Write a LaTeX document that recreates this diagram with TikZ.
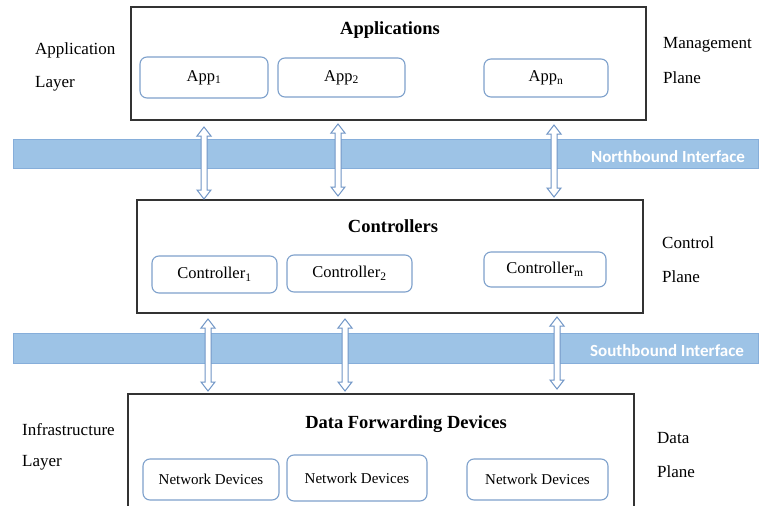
\documentclass[tikz,border=0pt]{standalone}
\usepackage{fontspec}
\setmainfont{Liberation Serif}
\newfontfamily\calibri{Carlito}
\begin{document}
\begin{tikzpicture}[x=1pt,y=-1pt,
  bigbox/.style={draw=black!80,line width=1.1pt,fill=white,inner sep=0pt},
  smallbox/.style={draw=boxblue,line width=1.1pt,rounded corners=7pt,fill=white,inner sep=0pt,font=\fontsize{16.5}{19}\selectfont},
  ndbox/.style={smallbox,font=\fontsize{15}{17}\selectfont},
  title/.style={font=\fontsize{18.5}{22}\selectfont\bfseries},
  side/.style={anchor=west,inner sep=0pt,font=\fontsize{17}{20}\selectfont},
  band/.style={fill=bandblue,draw=bandedge,line width=0.8pt},
  bandtext/.style={text=white,font=\fontsize{17}{20}\calibri\bfseries,inner sep=0pt},
  arrowline/.style={draw=arrowblue,line width=1pt,fill=white,line join=miter},
  pics/dblarrow/.style={code={
    \draw[arrowline] (0,-#1) -- (7,-#1+9) -- (3,-#1+9) -- (3,#1-9) -- (7,#1-9) -- (0,#1)
      -- (-7,#1-9) -- (-3,#1-9) -- (-3,-#1+9) -- (-7,-#1+9) -- cycle;}}
]
\definecolor{boxblue}{HTML}{7EA1CC}
\definecolor{bandblue}{HTML}{9DC3E6}
\definecolor{bandedge}{HTML}{86AEDA}
\definecolor{arrowblue}{HTML}{6F95C6}
\useasboundingbox (0,0) rectangle (761,506);
\clip (0,0) rectangle (761,506);
\fill[white] (0,0) rectangle (761,506);

% interface bands
\path[band] (13,139) rectangle (758,168);
\node[bandtext] (nb) at (668,157) {Northbound Interface};
\path[band] (13,333) rectangle (758,363);
\node[bandtext] (sb) at (667,351) {Southbound Interface};

% Application layer
\node[bigbox,minimum width=515,minimum height=113] (apps) at (388.5,63.5) {};
\node[title] (appst) at (390,30) {Applications};
\node[smallbox,minimum width=128,minimum height=41] (app1) at (204,77.5) {App\textsubscript{1}};
\node[smallbox,minimum width=127,minimum height=39] (app2) at (341.5,77.5) {App\textsubscript{2}};
\node[smallbox,minimum width=124,minimum height=38] (appn) at (546,78) {App\textsubscript{n}};

% Control layer
\node[bigbox,minimum width=506,minimum height=113] (ctrl) at (390,256.5) {};
\node[title] (ctrlt) at (393,226) {Controllers};
\node[smallbox,minimum width=125,minimum height=37] (c1) at (214.5,274.5) {Controller\textsubscript{1}};
\node[smallbox,minimum width=125,minimum height=37] (c2) at (349.5,273.5) {Controller\textsubscript{2}};
\node[smallbox,minimum width=122,minimum height=35] (cm) at (545,269.5) {Controller\textsubscript{m}};

% Data layer
\node[bigbox,minimum width=506,minimum height=140] (data) at (381,464) {};
\node[title] (datat) at (406,424) {Data Forwarding Devices};
\node[ndbox,minimum width=136,minimum height=41] (n1) at (211,479.5) {Network Devices};
\node[ndbox,minimum width=140,minimum height=46] (n2) at (357,478) {Network Devices};
\node[ndbox,minimum width=141,minimum height=41] (n3) at (537.5,479.5) {Network Devices};

% side labels
\node[side] (l1a) at (35,50) {Application};
\node[side] (l1b) at (35,84) {Layer};
\node[side] (r1a) at (663,45) {Management};
\node[side] (r1b) at (663,78) {Plane};
\node[side] (r2a) at (662,243) {Control};
\node[side] (r2b) at (662,277) {Plane};
\node[side] (l3a) at (22,430) {Infrastructure};
\node[side] (l3b) at (22,463) {Layer};
\node[side] (r3a) at (657,438) {Data};
\node[side] (r3b) at (657,472) {Plane};

% double arrows
\pic at (204,163) {dblarrow=36};
\pic at (338,160) {dblarrow=36};
\pic at (554,161) {dblarrow=36};
\pic at (208,355) {dblarrow=36};
\pic at (345,355) {dblarrow=36};
\pic at (557,353) {dblarrow=36};
\end{tikzpicture}
\end{document}
